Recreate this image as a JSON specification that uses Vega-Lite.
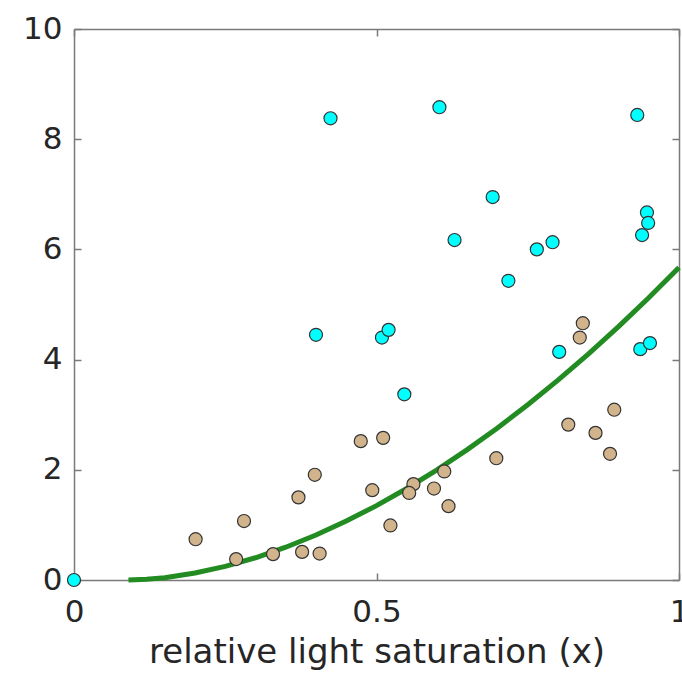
{
  "$schema": "https://vega.github.io/schema/vega-lite/v6.json",
  "width": 605,
  "height": 551,
  "autosize": {"type": "none"},
  "padding": {"left": 74, "top": 29, "right": 3, "bottom": 94},
  "background": "white",
  "config": {
    "view": {"stroke": null},
    "font": "DejaVu Sans",
    "axis": {
      "grid": false,
      "domainColor": "#7a7a7a",
      "domainWidth": 1.5,
      "tickColor": "#7a7a7a",
      "tickWidth": 1.5,
      "tickSize": -7,
      "labelColor": "#262626",
      "labelFont": "DejaVu Sans",
      "labelFontSize": 31,
      "labelFlush": false,
      "labelOverlap": false,
      "titleColor": "#262626",
      "titleFont": "DejaVu Sans",
      "titleFontSize": 34,
      "titleFontWeight": "normal"
    }
  },
  "datasets": {
    "curve": [
      {"x": 0.09, "y": 0},
      {"x": 0.12, "y": 0.012},
      {"x": 0.15, "y": 0.042},
      {"x": 0.2, "y": 0.126},
      {"x": 0.25, "y": 0.248},
      {"x": 0.3, "y": 0.404},
      {"x": 0.35, "y": 0.595},
      {"x": 0.4, "y": 0.816},
      {"x": 0.45, "y": 1.069},
      {"x": 0.5, "y": 1.35},
      {"x": 0.55, "y": 1.661},
      {"x": 0.6, "y": 2.0},
      {"x": 0.65, "y": 2.366},
      {"x": 0.7, "y": 2.76},
      {"x": 0.75, "y": 3.181},
      {"x": 0.8, "y": 3.627},
      {"x": 0.85, "y": 4.101},
      {"x": 0.9, "y": 4.599},
      {"x": 0.95, "y": 5.122},
      {"x": 1.0, "y": 5.67}
    ],
    "pts": [
      {"x": 0.201, "y": 0.74, "g": "tan"},
      {"x": 0.268, "y": 0.38, "g": "tan"},
      {"x": 0.281, "y": 1.07, "g": "tan"},
      {"x": 0.329, "y": 0.47, "g": "tan"},
      {"x": 0.377, "y": 0.51, "g": "tan"},
      {"x": 0.406, "y": 0.48, "g": "tan"},
      {"x": 0.371, "y": 1.5, "g": "tan"},
      {"x": 0.398, "y": 1.91, "g": "tan"},
      {"x": 0.474, "y": 2.52, "g": "tan"},
      {"x": 0.511, "y": 2.58, "g": "tan"},
      {"x": 0.493, "y": 1.63, "g": "tan"},
      {"x": 0.523, "y": 0.99, "g": "tan"},
      {"x": 0.561, "y": 1.74, "g": "tan"},
      {"x": 0.554, "y": 1.58, "g": "tan"},
      {"x": 0.595, "y": 1.66, "g": "tan"},
      {"x": 0.612, "y": 1.97, "g": "tan"},
      {"x": 0.619, "y": 1.34, "g": "tan"},
      {"x": 0.698, "y": 2.21, "g": "tan"},
      {"x": 0.817, "y": 2.82, "g": "tan"},
      {"x": 0.841, "y": 4.66, "g": "tan"},
      {"x": 0.836, "y": 4.4, "g": "tan"},
      {"x": 0.862, "y": 2.67, "g": "tan"},
      {"x": 0.886, "y": 2.29, "g": "tan"},
      {"x": 0.893, "y": 3.09, "g": "tan"},
      {"x": 0.0, "y": 0.0, "g": "cyan"},
      {"x": 0.424, "y": 8.38, "g": "cyan"},
      {"x": 0.604, "y": 8.58, "g": "cyan"},
      {"x": 0.931, "y": 8.44, "g": "cyan"},
      {"x": 0.692, "y": 6.95, "g": "cyan"},
      {"x": 0.629, "y": 6.17, "g": "cyan"},
      {"x": 0.947, "y": 6.67, "g": "cyan"},
      {"x": 0.949, "y": 6.48, "g": "cyan"},
      {"x": 0.939, "y": 6.26, "g": "cyan"},
      {"x": 0.765, "y": 6.0, "g": "cyan"},
      {"x": 0.791, "y": 6.13, "g": "cyan"},
      {"x": 0.718, "y": 5.43, "g": "cyan"},
      {"x": 0.4, "y": 4.45, "g": "cyan"},
      {"x": 0.509, "y": 4.4, "g": "cyan"},
      {"x": 0.52, "y": 4.54, "g": "cyan"},
      {"x": 0.546, "y": 3.37, "g": "cyan"},
      {"x": 0.802, "y": 4.14, "g": "cyan"},
      {"x": 0.936, "y": 4.19, "g": "cyan"},
      {"x": 0.952, "y": 4.3, "g": "cyan"}
    ]
  },
  "layer": [
    {
      "data": {"name": "curve"},
      "mark": {"type": "line", "color": "#228B22", "strokeWidth": 5, "strokeCap": "butt"},
      "encoding": {
        "x": {
          "field": "x", "type": "quantitative",
          "scale": {"domain": [0, 1], "nice": false, "zero": false},
          "axis": {"orient": "bottom", "values": [0, 0.5, 1], "format": "~r", "labelPadding": 24, "title": "relative light saturation (x)", "titlePadding": 8}
        },
        "y": {
          "field": "y", "type": "quantitative",
          "scale": {"domain": [0, 10], "nice": false},
          "axis": {"orient": "left", "values": [0, 2, 4, 6, 8, 10], "format": "d", "labelPadding": 19, "title": null}
        }
      }
    },
    {
      "data": {"name": "pts"},
      "mark": {"type": "circle", "size": 170, "stroke": "#333333", "strokeWidth": 1.2, "opacity": 1},
      "encoding": {
        "x": {
          "field": "x", "type": "quantitative",
          "axis": {"orient": "top", "values": [0, 0.5, 1], "labels": false, "title": null}
        },
        "y": {
          "field": "y", "type": "quantitative",
          "axis": {"orient": "right", "values": [0, 2, 4, 6, 8, 10], "labels": false, "title": null}
        },
        "fill": {
          "field": "g", "type": "nominal",
          "scale": {"domain": ["tan", "cyan"], "range": ["#D2B48C", "#00FFFF"]},
          "legend": null
        }
      }
    }
  ],
  "resolve": {"axis": {"x": "independent", "y": "independent"}}
}
